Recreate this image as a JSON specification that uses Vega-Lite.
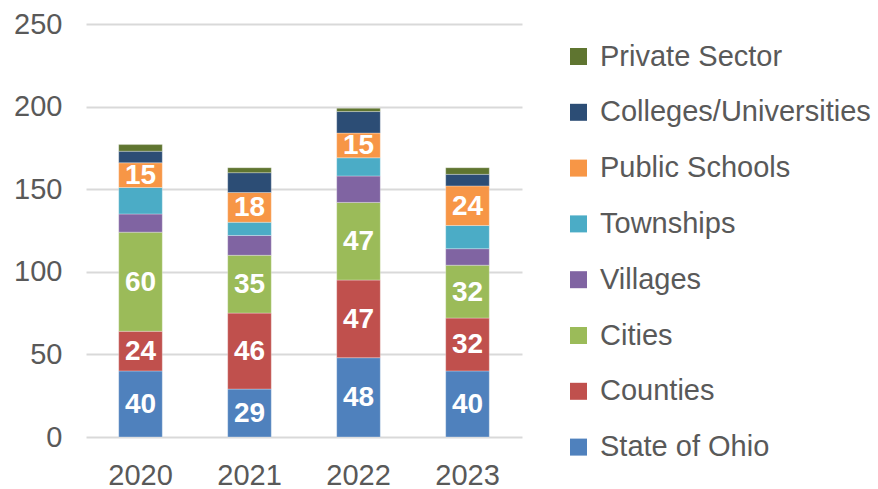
{
  "$schema": "https://vega.github.io/schema/vega-lite/v6.json",
  "width": 436,
  "height": 413,
  "autosize": {"type": "none"},
  "padding": {"left": 86, "top": 24, "right": 356, "bottom": 52},
  "background": "#ffffff",
  "config": {
    "view": {"stroke": null},
    "font": "Liberation Sans",
    "axis": {"labelFont": "Liberation Sans", "labelColor": "#595959", "labelFontSize": 29, "ticks": false, "title": null},
    "legend": {"labelFont": "Liberation Sans"}
  },
  "data": {
    "values": [
      {"year": "2020", "category": "State of Ohio", "layer": 1, "value": 40},
      {"year": "2020", "category": "Counties", "layer": 2, "value": 24},
      {"year": "2020", "category": "Cities", "layer": 3, "value": 60},
      {"year": "2020", "category": "Villages", "layer": 4, "value": 11},
      {"year": "2020", "category": "Townships", "layer": 5, "value": 16},
      {"year": "2020", "category": "Public Schools", "layer": 6, "value": 15},
      {"year": "2020", "category": "Colleges/Universities", "layer": 7, "value": 7},
      {"year": "2020", "category": "Private Sector", "layer": 8, "value": 4},
      {"year": "2021", "category": "State of Ohio", "layer": 1, "value": 29},
      {"year": "2021", "category": "Counties", "layer": 2, "value": 46},
      {"year": "2021", "category": "Cities", "layer": 3, "value": 35},
      {"year": "2021", "category": "Villages", "layer": 4, "value": 12},
      {"year": "2021", "category": "Townships", "layer": 5, "value": 8},
      {"year": "2021", "category": "Public Schools", "layer": 6, "value": 18},
      {"year": "2021", "category": "Colleges/Universities", "layer": 7, "value": 12},
      {"year": "2021", "category": "Private Sector", "layer": 8, "value": 3},
      {"year": "2022", "category": "State of Ohio", "layer": 1, "value": 48},
      {"year": "2022", "category": "Counties", "layer": 2, "value": 47},
      {"year": "2022", "category": "Cities", "layer": 3, "value": 47},
      {"year": "2022", "category": "Villages", "layer": 4, "value": 16},
      {"year": "2022", "category": "Townships", "layer": 5, "value": 11},
      {"year": "2022", "category": "Public Schools", "layer": 6, "value": 15},
      {"year": "2022", "category": "Colleges/Universities", "layer": 7, "value": 13},
      {"year": "2022", "category": "Private Sector", "layer": 8, "value": 2},
      {"year": "2023", "category": "State of Ohio", "layer": 1, "value": 40},
      {"year": "2023", "category": "Counties", "layer": 2, "value": 32},
      {"year": "2023", "category": "Cities", "layer": 3, "value": 32},
      {"year": "2023", "category": "Villages", "layer": 4, "value": 10},
      {"year": "2023", "category": "Townships", "layer": 5, "value": 14},
      {"year": "2023", "category": "Public Schools", "layer": 6, "value": 24},
      {"year": "2023", "category": "Colleges/Universities", "layer": 7, "value": 7},
      {"year": "2023", "category": "Private Sector", "layer": 8, "value": 4}
    ]
  },
  "transform": [
    {"stack": "value", "groupby": ["year"], "sort": [{"field": "layer", "order": "ascending"}], "as": ["v0", "v1"]},
    {"calculate": "(datum.v0 + datum.v1) / 2", "as": "mid"}
  ],
  "encoding": {
    "x": {
      "field": "year", "type": "nominal",
      "scale": {"paddingInner": 0.6, "paddingOuter": 0.3},
      "axis": {"labelAngle": 0, "labelPadding": 24, "domain": false, "grid": false}
    }
  },
  "layer": [
    {
      "mark": {"type": "bar", "stroke": "#ffffff", "strokeWidth": 0.6, "strokeOpacity": 0.5},
      "encoding": {
        "y": {
          "field": "v0", "type": "quantitative",
          "scale": {"domain": [0, 250], "nice": false},
          "axis": {"values": [0, 50, 100, 150, 200, 250], "domain": false, "gridColor": "#D9D9D9", "gridWidth": 2, "labelPadding": 24}
        },
        "y2": {"field": "v1"},
        "color": {
          "field": "category", "type": "nominal",
          "scale": {
            "domain": ["Private Sector", "Colleges/Universities", "Public Schools", "Townships", "Villages", "Cities", "Counties", "State of Ohio"],
            "range": ["#5F7530", "#2C4D75", "#F79646", "#4BACC6", "#8064A2", "#9BBB59", "#C0504D", "#4F81BD"]
          },
          "legend": {
            "title": null,
            "orient": "none",
            "legendX": 478,
            "legendY": 18,
            "symbolType": "square",
            "symbolSize": 289,
            "symbolStrokeWidth": 0,
            "labelFontSize": 29,
            "labelColor": "#595959",
            "labelOffset": 7,
            "rowPadding": 25.8,
            "labelLimit": 400
          }
        }
      }
    },
    {
      "transform": [{"filter": "datum.layer == 1 || datum.layer == 2 || datum.layer == 3 || datum.layer == 6"}],
      "mark": {"type": "text", "color": "#ffffff", "fontSize": 28, "fontWeight": "bold", "baseline": "middle", "align": "center", "dy": 1},
      "encoding": {
        "y": {"field": "mid", "type": "quantitative"},
        "text": {"field": "value", "type": "quantitative"}
      }
    }
  ]
}
